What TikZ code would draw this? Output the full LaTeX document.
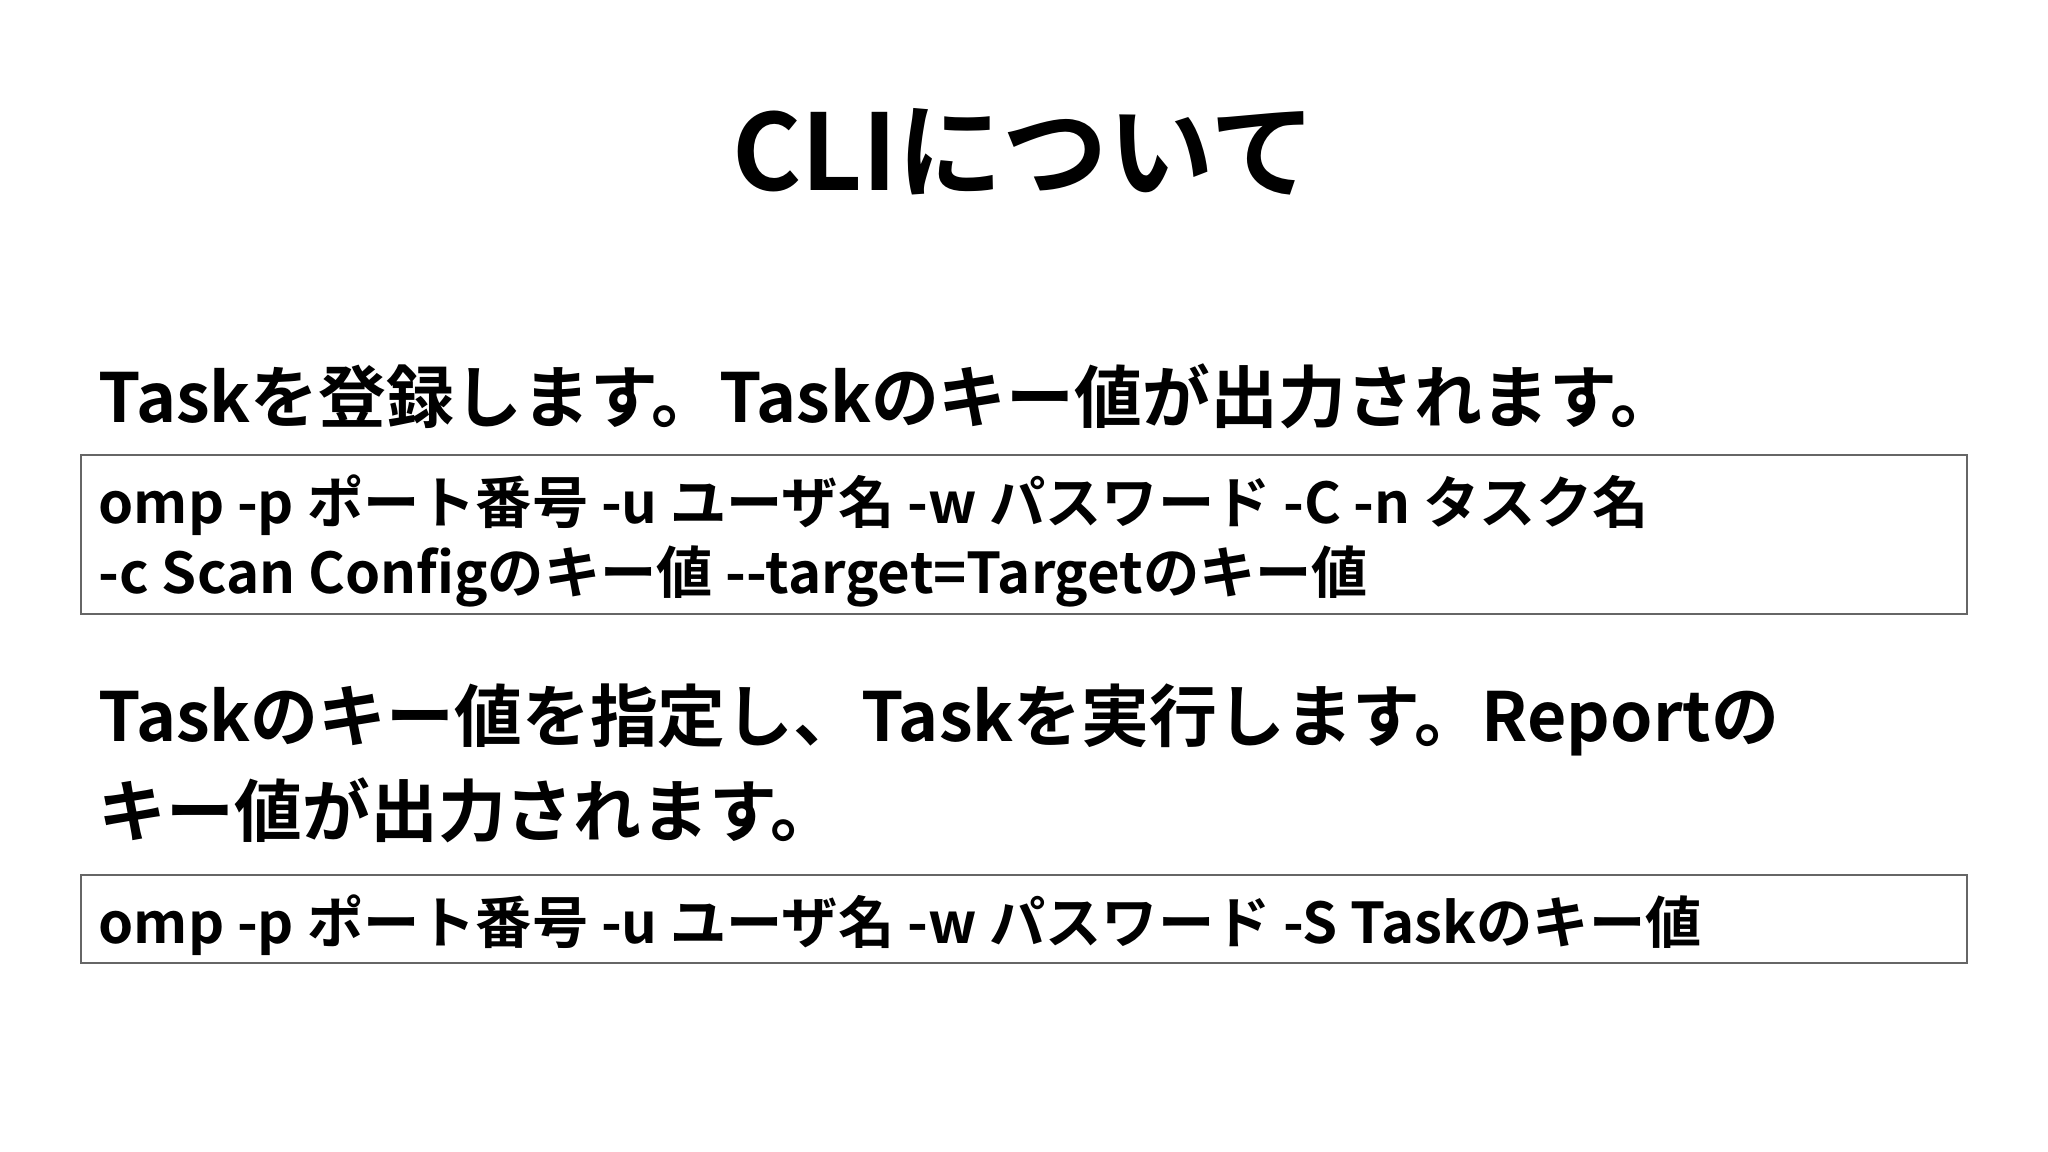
\documentclass[tikz,border=0pt]{standalone}
\usepackage{fontspec}
\setmainfont{Noto Sans CJK JP}[BoldFont={* Bold}]
\begin{document}
\begin{tikzpicture}[x=0.01cm,y=-0.01cm,
  head/.style={anchor=west,inner sep=0pt,font=\bfseries\fontsize{19.3}{23}\selectfont},
  cmd/.style={anchor=west,inner sep=0pt,font=\bfseries\fontsize{16}{19}\selectfont},
  cbox/.style={draw=black!60,line width=0.5pt}]
\useasboundingbox (0,0) rectangle (2048,1152);
\node[inner sep=0pt,font=\bfseries\fontsize{30}{36}\selectfont] (title) at (1024,152) {CLIについて};
\node[head] (h1) at (98,396) {Taskを登録します。Taskのキー値が出力されます。};
\draw[cbox] (81,455) rectangle (1967,614);
\node[cmd] (c1) at (98,505) {omp -p ポート番号 -u ユーザ名 -w パスワード -C -n タスク名};
\node[cmd] (c2) at (98,576) {-c Scan Configのキー値 -{}-target=Targetのキー値};
\node[head] (h2a) at (98,720) {Taskのキー値を指定し、Taskを実行します。Reportの};
\node[head] (h2b) at (98,810) {キー値が出力されます。};
\draw[cbox] (81,875) rectangle (1967,963);
\node[cmd] (c3) at (98,925) {omp -p ポート番号 -u ユーザ名 -w パスワード -S Taskのキー値};
\end{tikzpicture}
\end{document}
